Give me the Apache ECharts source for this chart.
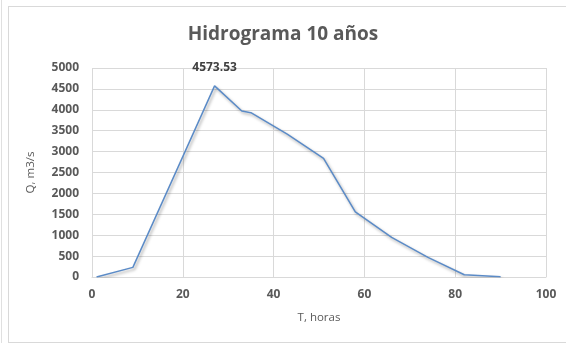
<!DOCTYPE html>
<html>
<head>
<meta charset="utf-8">
<script src="https://cdn.jsdelivr.net/npm/echarts@6/dist/echarts.min.js"></script>
<style>
  html, body { margin: 0; padding: 0; background: #fff; }
  #frame { position: absolute; left: 8px; top: 6px; width: 570px; height: 337px; border: 1px solid #d9d9d9; box-sizing: border-box; }
  #edge { position: absolute; left: 1px; top: 0; width: 1px; height: 343px; background: #e0e0e0; }
  #chart { position: absolute; left: 0; top: 0; width: 566px; height: 346px; }
</style>
</head>
<body>
<div id="edge"></div>
<div id="frame"></div>
<div id="chart"></div>
<script>
// Hydrograph for a 10-year return period: time (h) vs discharge (m3/s)
const timeHours = [1, 9, 20, 27, 33, 35, 43, 51, 58, 66, 74, 82, 90];
const discharge = [0, 230, 2880, 4573.53, 3970, 3930, 3420, 2840, 1560, 950, 470, 55, 5];
const xTicks = [0, 20, 40, 60, 80, 100];
const yTicks = [0, 500, 1000, 1500, 2000, 2500, 3000, 3500, 4000, 4500, 5000];
const peakValue = Math.max(...discharge);

const points = timeHours.map((t, i) => [t, discharge[i]]);
const grey = '#595959';
const fontFam = '"Open Sans", "Liberation Sans", sans-serif';

const chart = echarts.init(document.getElementById('chart'), null, { renderer: 'canvas' });
chart.setOption({
  animation: false,
  title: {
    text: 'Hidrograma 10 años',
    left: 'center',
    top: 20,
    textStyle: { fontFamily: fontFam, fontSize: 19, fontWeight: 'bold', color: grey }
  },
  grid: { left: 92, right: 20, top: 68, bottom: 69 },
  xAxis: {
    type: 'value',
    min: xTicks[0], max: xTicks[xTicks.length - 1], interval: 20,
    name: 'T, horas', nameLocation: 'middle', nameGap: 35,
    nameTextStyle: { fontFamily: fontFam, fontSize: 11.5, color: grey },
    axisLine: { show: true, lineStyle: { color: '#d9d9d9' } },
    axisTick: { show: false },
    axisLabel: { margin: 12, fontFamily: fontFam, fontSize: 12, fontWeight: 'bold', color: grey,
                 formatter: v => String(v) },
    splitLine: { show: true, lineStyle: { color: '#d9d9d9' } }
  },
  yAxis: {
    type: 'value',
    min: yTicks[0], max: yTicks[yTicks.length - 1], interval: 500,
    name: 'Q, m3/s', nameLocation: 'middle', nameGap: 55,
    nameTextStyle: { fontFamily: fontFam, fontSize: 11.5, color: grey },
    axisLine: { show: false },
    axisTick: { show: false },
    axisLabel: { margin: 13, fontFamily: fontFam, fontSize: 12, fontWeight: 'bold', color: grey,
                 formatter: v => String(v) },
    splitLine: { show: true, lineStyle: { color: '#d9d9d9' } }
  },
  series: [{
    type: 'line',
    data: points,
    showSymbol: false,
    symbol: 'none',
    lineStyle: {
      color: '#5b8bc7', width: 1.5,
      shadowColor: 'rgba(0,0,0,0.35)', shadowBlur: 3, shadowOffsetX: 1.5, shadowOffsetY: 2
    },
    markPoint: {
      symbol: 'circle', symbolSize: 0,
      data: [{ coord: [timeHours[discharge.indexOf(peakValue)], peakValue], value: peakValue }],
      label: {
        show: true, position: 'top', distance: 12,
        formatter: p => p.value.toFixed(2),
        fontFamily: fontFam, fontSize: 12, fontWeight: 'bold', color: '#404040'
      }
    }
  }]
});
</script>
</body>
</html>
